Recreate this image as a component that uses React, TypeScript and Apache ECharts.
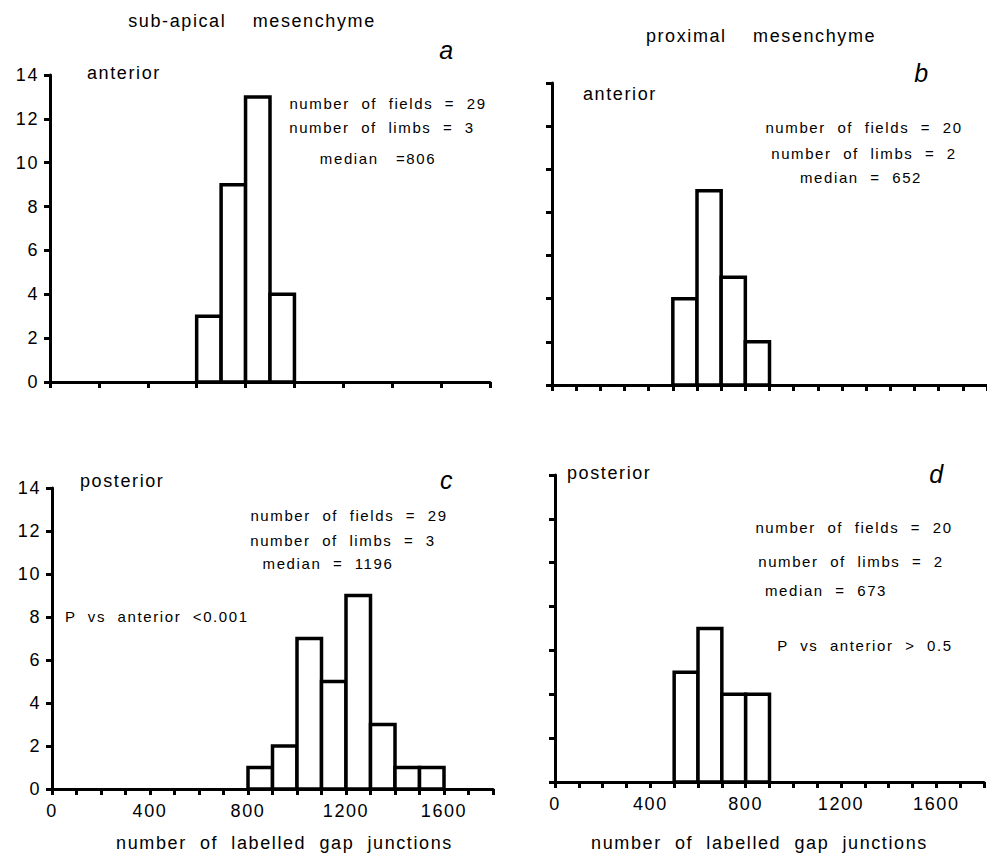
import React, { useEffect, useRef } from "react";
import * as echarts from "echarts";

const BIN = 100;
const X_MAX = 1800;
const Y_MAX = 14;

// panel a: sub-apical anterior
const binsA = [600, 700, 800, 900];
const countsA = [3, 9, 13, 4];
// panel b: proximal anterior
const binsB = [500, 600, 700, 800];
const countsB = [4, 9, 5, 2];
// panel c: sub-apical posterior
const binsC = [800, 900, 1000, 1100, 1200, 1300, 1400, 1500];
const countsC = [1, 2, 7, 5, 9, 3, 1, 1];
// panel d: proximal posterior
const binsD = [500, 600, 700, 800];
const countsD = [5, 7, 4, 4];

const xTickLabels = [0, 400, 800, 1200, 1600];

const FONT = "Liberation Sans";

function histData(bins: number[], counts: number[]) {
  return bins.map((b, i) => [b, b + BIN, counts[i]]);
}

const renderBar = (params: any, api: any) => {
  const x0 = api.value(0);
  const x1 = api.value(1);
  const v = api.value(2);
  const p0 = api.coord([x0, v]);
  const p1 = api.coord([x1, 0]);
  return {
    type: "rect",
    shape: { x: p0[0], y: p0[1], width: p1[0] - p0[0], height: p1[1] - p0[1] },
    style: { fill: "#fff", stroke: "#000", lineWidth: 3.5 },
  };
};

function txt(text: string, x: number, y: number, opts: any = {}) {
  const align = opts.align || "center";
  return {
    type: "text",
    x,
    y,
    z: 10,
    style: {
      text,
      fill: "#000",
      fontSize: opts.size || 15,
      fontFamily: FONT,
      fontStyle: opts.italic ? "italic" : "normal",
      align,
      textAlign: align,
      verticalAlign: "middle",
      textVerticalAlign: "middle",
    },
  };
}

export default function App() {
  const ref = useRef<HTMLDivElement>(null);
  useEffect(() => {
    document.body.style.margin = "0";
    if (!ref.current) return;
    const chart = echarts.init(ref.current, undefined, { renderer: "svg" });

    const grids = [
      { left: 50, top: 75, width: 440, height: 307 },
      { left: 552, top: 83, width: 439, height: 302 },
      { left: 52, top: 488, width: 441, height: 301 },
      { left: 555, top: 475, width: 439, height: 307 },
    ];

    const xInterval = [200, 100, 100, 100];
    const showX = [false, false, true, true];
    const showY = [true, false, true, false];
    const xNameGap = [0, 0, 45, 52];
    const xNamePad = [
      [0, 0, 0, 0],
      [0, 0, 0, 0],
      [0, 0, 0, 24],
      [0, 20, 0, 0],
    ];

    const xAxes = grids.map((_, i) => ({
      type: "value",
      gridIndex: i,
      min: 0,
      max: X_MAX,
      interval: xInterval[i],
      name: showX[i] ? "number  of  labelled  gap  junctions" : "",
      nameLocation: "middle",
      nameGap: xNameGap[i],
      nameTextStyle: { color: "#000", fontSize: 18, fontFamily: FONT, padding: xNamePad[i] },
      axisLine: { show: true, onZero: false, lineStyle: { color: "#000", width: 3 } },
      axisTick: { show: true, length: 6, lineStyle: { color: "#000", width: 3 } },
      splitLine: { show: false },
      axisLabel: {
        show: showX[i],
        color: "#000",
        fontSize: 18,
        fontFamily: FONT,
        margin: 13,
        formatter: (v: number) => (xTickLabels.indexOf(v) >= 0 ? String(v) : ""),
      },
    }));

    const yAxes = grids.map((_, i) => ({
      type: "value",
      gridIndex: i,
      min: 0,
      max: Y_MAX,
      interval: 2,
      axisLine: { show: true, lineStyle: { color: "#000", width: 3 } },
      axisTick: { show: true, length: 6, lineStyle: { color: "#000", width: 3 } },
      splitLine: { show: false },
      axisLabel: {
        show: showY[i],
        color: "#000",
        fontSize: 18,
        fontFamily: FONT,
        margin: 11,
      },
    }));

    const datasets = [
      histData(binsA, countsA),
      histData(binsB, countsB),
      histData(binsC, countsC),
      histData(binsD, countsD),
    ];

    const series = datasets.map((d, i) => ({
      type: "custom",
      xAxisIndex: i,
      yAxisIndex: i,
      renderItem: renderBar,
      encode: { x: [0, 1], y: 2 },
      data: d,
      z: 5,
    }));

    const graphics = [
      txt("sub-apical    mesenchyme", 252, 21, { size: 18 }),
      txt("proximal    mesenchyme", 761, 36, { size: 18 }),
      txt("a", 447, 50, { size: 25, italic: true }),
      txt("b", 922, 73, { size: 25, italic: true }),
      txt("c", 447, 480, { size: 25, italic: true }),
      txt("d", 937, 474, { size: 25, italic: true }),
      txt("anterior", 87, 73, { size: 18, align: "left" }),
      txt("anterior", 583, 94, { size: 18, align: "left" }),
      txt("posterior", 80, 481, { size: 18, align: "left" }),
      txt("posterior", 567, 473, { size: 18, align: "left" }),
      // panel a
      txt("number  of  fields  =  29", 388, 103),
      txt("number  of  limbs  =  3", 382, 127),
      txt("median   =806", 378, 158),
      // panel b
      txt("number  of  fields  =  20", 864, 127),
      txt("number  of  limbs  =  2", 864, 153),
      txt("median  =  652", 861, 177),
      // panel c
      txt("number  of  fields  =  29", 349, 515),
      txt("number  of  limbs  =  3", 343, 540),
      txt("median  =  1196", 328, 563),
      txt("P  vs  anterior  <0.001", 65, 616, { align: "left" }),
      // panel d
      txt("number  of  fields  =  20", 854, 527),
      txt("number  of  limbs  =  2", 851, 561),
      txt("median  =  673", 826, 590),
      txt("P  vs  anterior  >  0.5", 865, 645),
    ];

    chart.setOption({
      animation: false,
      backgroundColor: "#fff",
      grid: grids.map((g) => ({ ...g, containLabel: false })),
      xAxis: xAxes,
      yAxis: yAxes,
      series,
      graphic: graphics,
    });
    return () => chart.dispose();
  }, []);

  return (
    <>
      <style>{`#chart text { letter-spacing: 1.6px; white-space: pre; }`}</style>
      <div id="chart" ref={ref} style={{ width: 987, height: 855 }} />
    </>
  );
}
